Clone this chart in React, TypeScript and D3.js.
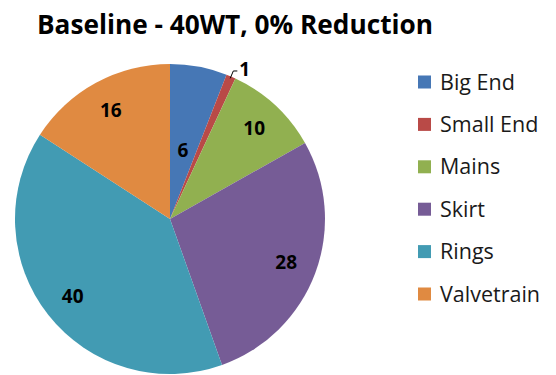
import React from "react";
import * as d3 from "d3";

const categories = ["Big End", "Small End", "Mains", "Skirt", "Rings", "Valvetrain"];
const values = [6, 1, 10, 28, 40, 16];
const colors = ["#4677b5", "#b94a47", "#91b050", "#765c96", "#429bb3", "#e08a41"];
const title = "Baseline - 40WT, 0% Reduction";

const W = 556;
const H = 375;
const cx = 170;
const cy = 219;
const R = 155;
const FONT = "'Open Sans', 'Liberation Sans', sans-serif";

export default function App() {
  const pie = d3.pie<number>().sort(null).value((d) => d)(values);
  const arc = d3.arc<d3.PieArcDatum<number>>().innerRadius(0).outerRadius(R);
  const total = d3.sum(values);

  const legendY = d3.scalePoint<string>().domain(categories).range([82, 294]);

  return (
    <svg
      width={W}
      height={H}
      style={{ position: "absolute", left: 0, top: 0, background: "#fff" }}
      fontFamily={FONT}
    >
      <text
        x={37}
        y={34}
        fontSize={26}
        fontWeight={700}
        fill="#000"
        textLength={396}
        lengthAdjust="spacingAndGlyphs"
      >
        {title}
      </text>
      <g transform={`translate(${cx},${cy})`}>
        {pie.map((p, i) => (
          <path key={categories[i]} d={arc(p) ?? ""} fill={colors[i]} />
        ))}
        {pie.map((p, i) => {
          const mid = (p.startAngle + p.endAngle) / 2;
          const share = p.value / total;
          if (share < 0.02) {
            // tiny slice: label outside with a leader line
            const x0 = Math.sin(mid) * (R - 2);
            const y0 = -Math.cos(mid) * (R - 2);
            const x1 = Math.sin(mid) * (R + 6);
            const y1 = -Math.cos(mid) * (R + 6);
            return (
              <g key={"l" + i}>
                <polyline
                  points={`${x0},${y0} ${x1},${y1} ${x1 + 4},${y1}`}
                  fill="none"
                  stroke="#000"
                  strokeWidth={1}
                />
                <text x={x1 + 6} y={y1 + 5} fontSize={19} fontWeight={700} fill="#000">
                  {p.value}
                </text>
              </g>
            );
          }
          const lr = share < 0.08 ? R * 0.45 : R * 0.8;
          const x = Math.sin(mid) * lr;
          const y = -Math.cos(mid) * lr;
          return (
            <text
              key={"l" + i}
              x={x}
              y={y}
              dy="0.35em"
              textAnchor="middle"
              fontSize={19}
              fontWeight={700}
              fill="#000"
            >
              {p.value}
            </text>
          );
        })}
      </g>
      <g>
        {categories.map((c, i) => (
          <g key={c} transform={`translate(418,${legendY(c)})`}>
            <rect x={0} y={-6.5} width={13} height={13} fill={colors[i]} />
            <text x={22} y={0} dy="0.35em" fontSize={21.5} fill="#1a1a1a">
              {c}
            </text>
          </g>
        ))}
      </g>
    </svg>
  );
}
